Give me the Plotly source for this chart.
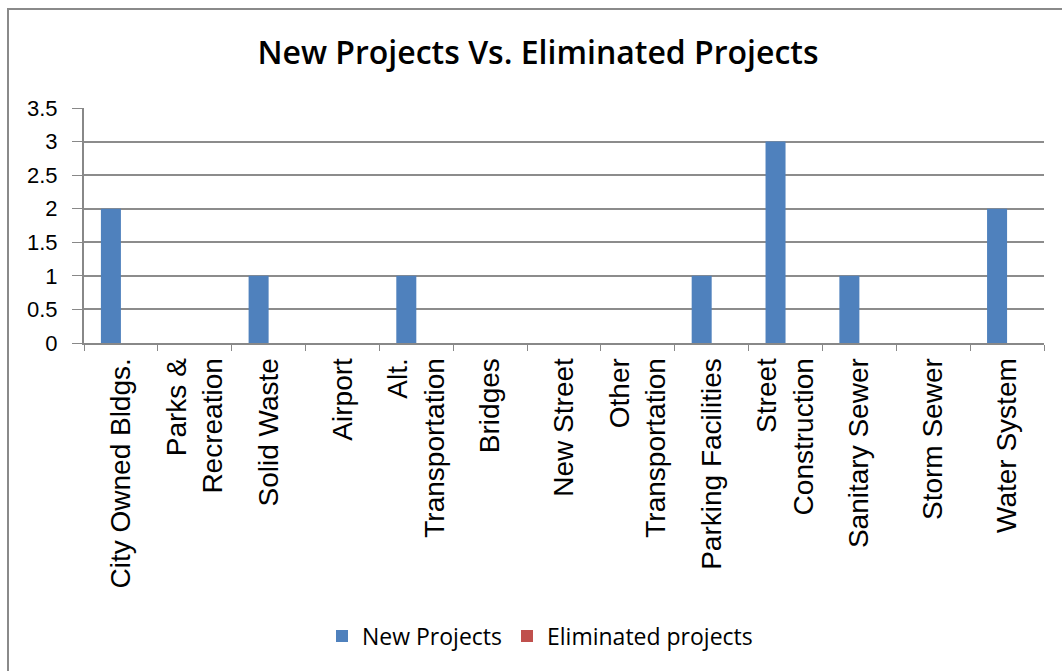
import plotly.graph_objects as go

categories = ["City Owned Bldgs.", "Parks &<br>Recreation", "Solid Waste", "Airport",
              "Alt.<br>Transportation", "Bridges", "New Street", "Other<br>Transportation",
              "Parking Facilities", "Street<br>Construction", "Sanitary Sewer", "Storm Sewer",
              "Water System"]
new_projects = [2, 0, 1, 0, 1, 0, 0, 0, 1, 3, 1, 0, 2]
eliminated_projects = [0, 0, 0, 0, 0, 0, 0, 0, 0, 0, 0, 0, 0]

fig = go.Figure()
fig.add_trace(go.Bar(x=categories, y=new_projects, name="New Projects",
                     marker=dict(color="#4F81BD", line=dict(width=0))))
fig.add_trace(go.Bar(x=categories, y=eliminated_projects, name="Eliminated projects",
                     marker=dict(color="#C0504D", line=dict(width=0))))

L, R, T, B = 84, 18, 108, 328
W, H = 1062, 671
pw, ph = W - L - R, H - T - B

def px_x(p):
    return (p - L) / pw

def px_y(p):
    return (H - B - p) / ph

fig.update_layout(
    width=W, height=H,
    margin=dict(l=L, r=R, t=T, b=B),
    paper_bgcolor="white", plot_bgcolor="white",
    barmode="group", bargap=0.458, bargroupgap=0,
    title=dict(text="New Projects Vs. Eliminated Projects", x=538 / W, xanchor="center",
               y=1 - 53 / H, yanchor="middle",
               font=dict(family="Open Sans", size=32, color="black", weight=600)),
    showlegend=True,
    legend=dict(orientation="h", x=px_x(540), xanchor="center", y=px_y(636), yanchor="middle",
                font=dict(family="Open Sans", size=23, color="black"), traceorder="normal",
                itemwidth=30, bgcolor="rgba(0,0,0,0)"),
    font=dict(family="Liberation Sans", color="black"),
    shapes=[dict(type="rect", xref="paper", yref="paper",
                 x0=px_x(8), x1=px_x(1070), y0=px_y(680), y1=px_y(9),
                 line=dict(color="#8a8a8a", width=2), fillcolor="rgba(0,0,0,0)", layer="below")],
)
fig.update_xaxes(type="category", tickangle=-90, tickson="boundaries", ticks="outside",
                 ticklen=6, tickcolor="#888888", showline=True, linecolor="#888888", linewidth=2,
                 tickfont=dict(family="Liberation Sans", size=28, color="black"),
                 ticklabelstandoff=2, showgrid=False, fixedrange=True)
fig.update_yaxes(range=[0, 3.5], dtick=0.5, ticks="outside", ticklen=10, tickcolor="#888888",
                 showline=True, linecolor="#888888", linewidth=2,
                 showgrid=True, gridcolor="#8c8c8c", gridwidth=1.5, zeroline=False,
                 ticklabelstandoff=10,
                 tickfont=dict(family="Liberation Sans", size=22, color="black"))

fig.write_html("out.html")
